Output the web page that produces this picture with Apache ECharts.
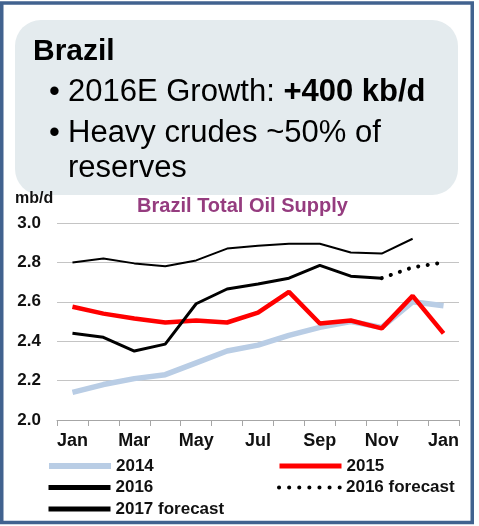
<!DOCTYPE html>
<html><head><meta charset="utf-8">
<script src="https://cdn.jsdelivr.net/npm/echarts@6/dist/echarts.min.js"></script>
<style>html,body{margin:0;padding:0;background:#fff}#c{width:479px;height:526px}</style>
</head><body><div id="c"></div><script>
const months = ['Jan','Feb','Mar','Apr','May','Jun','Jul','Aug','Sep','Oct','Nov','Dec','Jan'];
const s2014 = [2.14, 2.18, 2.21, 2.23, 2.29, 2.35, 2.38, 2.43, 2.47, 2.50, 2.47, 2.60, 2.58];
const s2015 = [2.575, 2.54, 2.515, 2.495, 2.505, 2.495, 2.545, 2.65, 2.49, 2.505, 2.465, 2.63, 2.44];
const s2016 = [2.44, 2.42, 2.35, 2.385, 2.59, 2.665, 2.69, 2.72, 2.785, 2.73, 2.72, null, null];
const f2016 = [null, null, null, null, null, null, null, null, null, null, 2.72, 2.775, 2.80];
const f2017 = [2.80, 2.82, 2.795, 2.78, 2.81, 2.87, 2.885, 2.895, 2.895, 2.85, 2.845, 2.92, null];
const yMin = 2.0, yMax = 3.0, yStep = 0.2;

const FF = 'Liberation Sans, Arial, sans-serif';
const chart = echarts.init(document.getElementById('c'), null, {renderer:'canvas'});
const legendText = {fontFamily: FF, fontWeight: 'bold', fontSize: 17, color: '#111'};
function lg(name, left, top, ls) {
  return {data:[name], left: left, top: top, padding: 0, itemWidth: 62, itemHeight: 14,
    textStyle: legendText, lineStyle: ls, itemStyle: {opacity: 0, color: 'transparent', borderWidth: 0},
    selectedMode: false};
}
chart.setOption({
  animation: false,
  backgroundColor: '#fff',
  grid: {left: 57, right: 20, top: 223, bottom: 106, containLabel: false},
  xAxis: {
    type: 'category', data: months, boundaryGap: true,
    axisLine: {show: true, lineStyle: {color: '#a6a6a6', width: 1}},
    axisTick: {show: true, interval: 0, length: 6, lineStyle: {color: '#a6a6a6'}},
    axisLabel: {interval: 1, margin: 12, fontFamily: FF, fontWeight: 'bold', fontSize: 18, color: '#111'},
    splitLine: {show: false}
  },
  yAxis: {
    type: 'value', min: yMin, max: yMax, interval: yStep,
    axisLine: {show: false}, axisTick: {show: false},
    axisLabel: {margin: 16, fontFamily: FF, fontWeight: 'bold', fontSize: 17, color: '#111',
      formatter: v => v.toFixed(1)},
    splitLine: {lineStyle: {color: '#c4c4c4', width: 1}}
  },
  legend: [
    lg('2014', 46, 457.5, {width: 6}),
    lg('2015', 277, 457.5, {width: 5}),
    lg('2016', 46, 479, {width: 5}),
    lg('2016 forecast', 277, 479, {width: 4, type: [0.1, 10], cap: 'round'}),
    lg('2017 forecast', 46, 500.5, {width: 5})
  ],
  series: [
    {name: '2014', type: 'line', data: s2014, symbol: 'none', lineStyle: {color: '#b9cde5', width: 5.5}, itemStyle: {color: '#b9cde5'}},
    {name: '2015', type: 'line', data: s2015, symbol: 'none', lineStyle: {color: '#ff0000', width: 4.5}, itemStyle: {color: '#ff0000'}},
    {name: '2016', type: 'line', data: s2016, symbol: 'none', lineStyle: {color: '#000', width: 3}, itemStyle: {color: '#000'}},
    {name: '2016 forecast', type: 'line', data: f2016, symbol: 'none', lineStyle: {color: '#000', width: 4, type: [0.1, 9.5], cap: 'round'}, itemStyle: {color: '#000'}},
    {name: '2017 forecast', type: 'line', data: f2017, symbol: 'none', lineStyle: {color: '#000', width: 2}, itemStyle: {color: '#000'}}
  ],
  graphic: [
    {type: 'rect', shape: {x: 15, y: 20, width: 443, height: 175, r: 26}, style: {fill: '#e4ebee'}, z: 0},
    {type: 'rect', shape: {x: 1.75, y: 3, width: 470.5, height: 519.5}, style: {fill: 'none', stroke: '#41628f', lineWidth: 3.5}, z: 100},
    {type: 'text', x: 33, y: 52, style: {text: 'Brazil', font: 'bold 30px ' + FF, fill: '#000', verticalAlign: 'middle'}, z: 10},
    {type: 'text', x: 49, y: 92, style: {text: '•', font: '31px ' + FF, fill: '#000', verticalAlign: 'middle'}, z: 10},
    {type: 'text', x: 68, y: 92, style: {text: '{n|2016E Growth: }{b|+400 kb/d}', font: '31px ' + FF, fill: '#000', verticalAlign: 'middle',
      rich: {n: {font: '31px ' + FF, fill: '#000'}, b: {font: 'bold 31px ' + FF, fill: '#000'}}}, z: 10},
    {type: 'text', x: 49, y: 133, style: {text: '•', font: '31px ' + FF, fill: '#000', verticalAlign: 'middle'}, z: 10},
    {type: 'text', x: 68, y: 133, style: {text: 'Heavy crudes ~50% of', font: '31px ' + FF, fill: '#000', verticalAlign: 'middle'}, z: 10},
    {type: 'text', x: 68, y: 168, style: {text: 'reserves', font: '31px ' + FF, fill: '#000', verticalAlign: 'middle'}, z: 10},
    {type: 'text', x: 15, y: 199, style: {text: 'mb/d', font: 'bold 16px ' + FF, fill: '#111', verticalAlign: 'middle'}, z: 10},
    {type: 'text', x: 242.5, y: 206, style: {text: 'Brazil Total Oil Supply', font: 'bold 20px ' + FF, fill: '#953c7f', align: 'center', verticalAlign: 'middle'}, z: 10}
  ]
});
</script></body></html>
